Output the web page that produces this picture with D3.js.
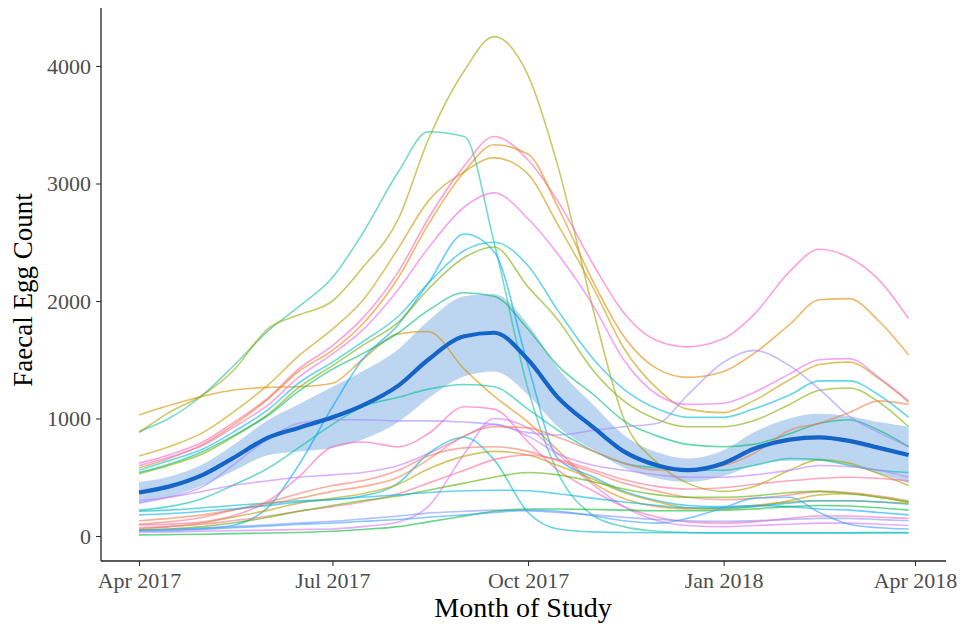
<!DOCTYPE html>
<meta charset="utf-8">
<style>
body { margin: 0; background: #fff; }
svg { font-family: "Liberation Serif", serif; }
</style>
<svg width="962" height="624"></svg>
<script src="https://d3js.org/d3.v7.min.js"></script>
<script>

// sampling dates (1st and 15th of each month)
var dates = ["2017-04-01","2017-04-15","2017-05-01","2017-05-15","2017-06-01","2017-06-15",
  "2017-07-01","2017-07-15","2017-08-01","2017-08-15","2017-09-01","2017-09-15",
  "2017-10-01","2017-10-15","2017-11-01","2017-11-15","2017-12-01","2017-12-15",
  "2018-01-01","2018-01-15","2018-02-01","2018-02-15","2018-03-01","2018-03-15","2018-03-29"];

var xTicks = ["2017-04-01","2017-07-01","2017-10-01","2018-01-01","2018-04-01"];
var yTicks = [0, 1000, 2000, 3000, 4000];

// one faecal egg count series per animal
var orangeFlat = [1030,1110,1190,1240,1265,1270,1300,1500,1720,1740,1420,1190,970,730,450,320,250,230,240,260,290,300,300,290,280];
var tealTall   = [890,1000,1200,1440,1750,1950,2200,2570,3100,3440,3400,2500,1250,540,170,80,40,30,25,25,25,25,25,25,25];
var oliveTall  = [880,1050,1200,1400,1770,1880,2000,2280,2700,3370,3960,4250,3920,3150,1900,1000,620,450,380,420,560,650,620,530,430];
var tanHigh    = [680,760,880,1050,1290,1530,1760,2000,2450,2850,3100,3220,3080,2650,2100,1600,1250,1080,1050,1150,1330,1460,1480,1340,1140];
var pinkHigh   = [620,690,800,960,1180,1420,1620,1850,2250,2700,3150,3400,3200,2850,2300,1900,1660,1610,1680,1880,2250,2440,2370,2180,1850];
var orangeHigh = [580,660,780,940,1170,1400,1580,1800,2200,2650,3100,3330,3250,2800,2150,1700,1420,1350,1400,1550,1800,2010,2020,1830,1540];
var mauveHigh  = [600,670,770,920,1120,1350,1550,1750,2100,2450,2800,2920,2700,2400,1950,1500,1200,1120,1130,1220,1380,1500,1510,1350,1150];
var blueRise   = [50,55,65,90,250,600,1100,1500,1800,2150,2570,2420,1450,660,500,380,300,260,250,260,250,230,220,200,180];
var cyanHigh   = [560,640,740,880,1080,1300,1480,1650,1870,2150,2430,2500,2300,1920,1500,1250,1080,1010,1010,1080,1200,1320,1320,1200,1010];
var greenHigh  = [530,600,700,840,1040,1260,1450,1620,1820,2100,2370,2460,2120,1840,1400,1150,990,930,930,980,1120,1240,1260,1140,930];
var tealMid    = [540,610,720,850,1030,1230,1420,1550,1730,1920,2070,2040,1760,1450,1200,980,850,780,760,780,870,960,990,900,760];
var tealLow    = [220,250,320,430,580,750,950,1100,1180,1250,1290,1270,1080,900,720,620,580,560,560,600,660,650,600,560,540];
var lavender   = [280,330,420,600,830,960,990,990,980,980,970,950,880,860,900,930,960,1200,1480,1580,1450,1250,1020,880,760];
var purple     = [300,330,380,430,470,500,520,540,600,700,850,950,850,700,600,560,520,500,500,520,560,600,590,560,500];
var pinkBump   = [95,100,120,170,300,500,760,800,760,870,1100,1080,800,560,380,250,160,120,110,120,150,170,170,160,150];
var violetPeak = [30,35,40,45,50,55,60,80,120,250,700,1000,920,700,430,250,130,90,80,90,100,110,110,100,90];
var tealPeak   = [210,220,240,260,280,300,310,340,450,700,840,650,200,60,35,30,28,28,28,28,28,28,28,30,30];
var salmon     = [130,150,180,220,270,320,380,420,500,650,850,930,920,840,720,620,560,560,600,700,900,960,1050,1150,1120];
var redLow     = [100,120,160,220,290,360,430,470,560,680,750,760,720,640,540,450,380,330,310,320,350,380,370,340,300];
var goldLow    = [60,80,110,160,220,280,320,360,440,570,680,720,690,600,480,370,290,240,230,250,300,350,360,330,290];
var pinkLow    = [70,80,100,130,170,210,250,290,360,450,560,650,690,650,560,480,420,400,410,440,470,490,500,490,470];
var greenLow   = [50,60,80,110,160,210,260,300,340,390,450,500,540,520,460,400,350,330,330,340,370,380,360,330,290];
var cyanLow    = [180,190,210,230,260,290,310,330,350,370,385,390,385,360,320,290,260,240,240,250,280,300,300,290,270];
var periwinkle = [50,55,65,80,95,110,125,145,170,195,210,220,215,200,180,160,140,130,125,130,140,150,150,140,130];
var greenFlat  = [10,12,15,20,25,30,40,55,80,120,170,210,230,230,225,220,215,215,220,230,250,260,255,240,220];
var blueDrop   = [40,45,55,70,85,100,110,125,140,160,180,200,220,210,170,130,110,150,240,320,330,200,100,70,60];

var seriesValues = [orangeFlat,tealTall,oliveTall,tanHigh,pinkHigh,orangeHigh,mauveHigh,
  blueRise,cyanHigh,greenHigh,tealMid,tealLow,lavender,purple,pinkBump,violetPeak,
  tealPeak,salmon,redLow,goldLow,pinkLow,greenLow,cyanLow,periwinkle,greenFlat,blueDrop];
var seriesColors = ["#D89000","#1EC2A0","#A3A500","#C49A00","#FF61C3","#E58700","#EE67EC",
  "#00A9FF","#00BCD8","#7CAE00","#00BD74","#00C1A3","#A58AFF","#C77CFF","#FF64B0","#DB72FB",
  "#00B8C8","#F47C53","#F8766D","#B79F00","#FF6C91","#53B400","#00B4EF","#8494FF","#00BA38","#35A2FF"];

// overall smoother and its confidence half-width
var smoothMean = [370,420,520,660,840,920,1010,1110,1280,1500,1700,1730,1500,1180,920,720,600,560,620,740,820,840,810,750,690];
var smoothSe   = [90,85,90,110,150,200,260,290,310,330,340,330,300,250,190,140,110,100,110,140,180,200,210,220,240];

var parse = d3.timeParse("%Y-%m-%d");
var dateVals = dates.map(parse);

var svg = d3.select("svg");

var x = d3.scaleTime()
    .domain([parse("2017-04-01"), parse("2018-04-01")])
    .range([139, 915]);

var y = d3.scaleLinear()
    .domain([0, 4000])
    .range([536, 66]);

var line = d3.line()
    .x(function(d, i) { return x(dateVals[i]); })
    .y(function(d) { return y(d); })
    .curve(d3.curveMonotoneX);

var area = d3.area()
    .x(function(d, i) { return x(dateVals[i]); })
    .y0(function(d, i) { return y(d - smoothSe[i]); })
    .y1(function(d, i) { return y(d + smoothSe[i]); })
    .curve(d3.curveMonotoneX);

// ribbon
svg.append("path")
    .datum(smoothMean)
    .attr("d", area)
    .attr("fill", "#85B2E4")
    .attr("opacity", 0.55);

// individual animals
svg.append("g")
  .selectAll("path")
  .data(seriesValues)
  .join("path")
    .attr("d", line)
    .attr("fill", "none")
    .attr("stroke", function(d, i) { return seriesColors[i]; })
    .attr("stroke-opacity", 0.6)
    .attr("stroke-width", 1.6);

// smoother
svg.append("path")
    .datum(smoothMean)
    .attr("d", line)
    .attr("fill", "none")
    .attr("stroke", "#1565C8")
    .attr("stroke-width", 4.2);

// axes
var xAxis = svg.append("g")
    .attr("transform", "translate(0,561)")
    .call(d3.axisBottom(x)
      .tickValues(xTicks.map(parse))
      .tickFormat(d3.timeFormat("%b %Y"))
      .tickSize(5)
      .tickPadding(6));

var yAxis = svg.append("g")
    .attr("transform", "translate(101,0)")
    .call(d3.axisLeft(y)
      .tickValues(yTicks)
      .tickFormat(d3.format("d"))
      .tickSize(5)
      .tickPadding(5));

[xAxis, yAxis].forEach(function(g) {
  g.select(".domain").remove();
  g.selectAll(".tick line").attr("stroke", "#333").attr("stroke-width", 1.1);
  g.selectAll(".tick text")
      .attr("fill", "#4d4d4d")
      .style("font-family", "Liberation Serif, serif")
      .style("font-size", "22px");
});

svg.append("line")
    .attr("x1", 101).attr("x2", 946)
    .attr("y1", 561).attr("y2", 561)
    .attr("stroke", "#222").attr("stroke-width", 1.3);

svg.append("line")
    .attr("x1", 101).attr("x2", 101)
    .attr("y1", 8).attr("y2", 561)
    .attr("stroke", "#222").attr("stroke-width", 1.3);

svg.append("text")
    .attr("x", 523)
    .attr("y", 617)
    .attr("text-anchor", "middle")
    .style("font-size", "28px")
    .text("Month of Study");

svg.append("text")
    .attr("transform", "translate(32,290) rotate(-90)")
    .attr("text-anchor", "middle")
    .style("font-size", "27px")
    .text("Faecal Egg Count");

</script>
